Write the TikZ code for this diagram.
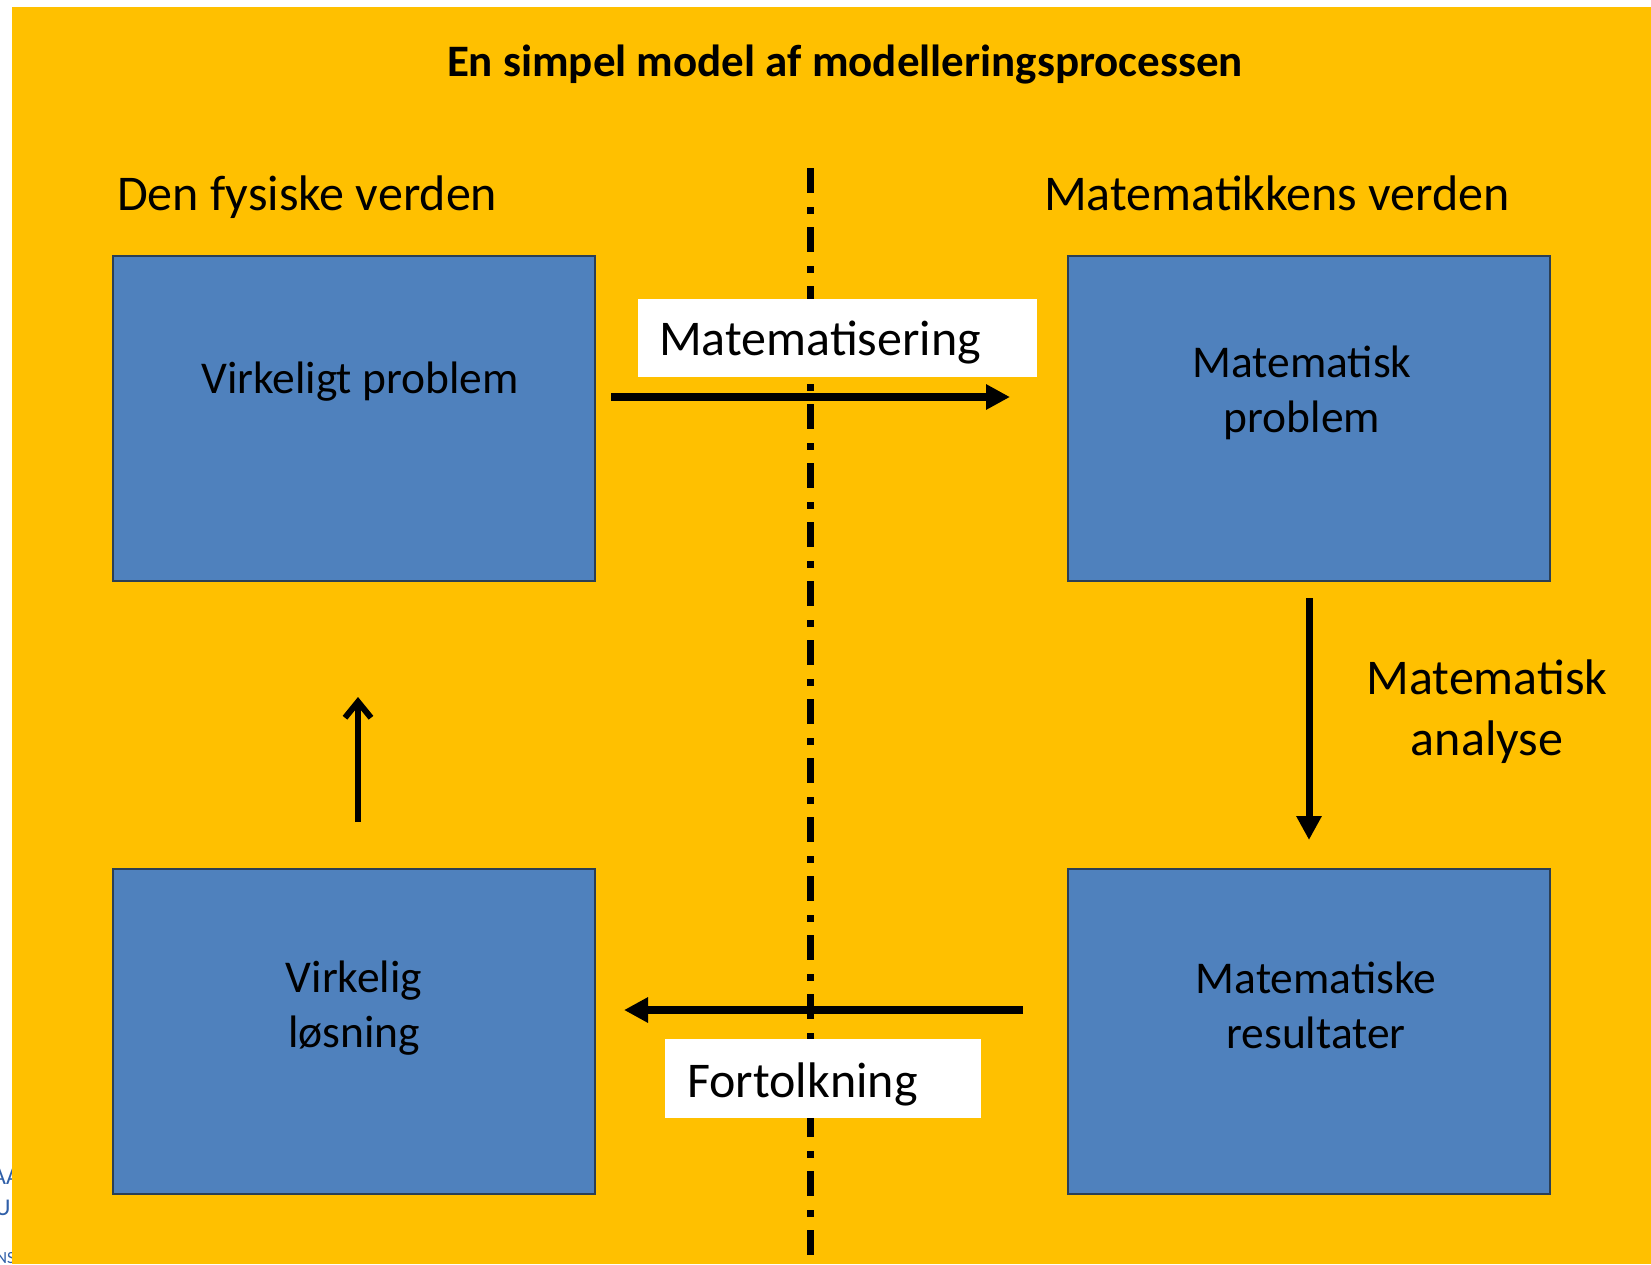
\documentclass[tikz,border=0pt]{standalone}
\usepackage{fontspec}
\setmainfont{Carlito}
\usetikzlibrary{arrows.meta}
\definecolor{bgorange}{HTML}{FFC000}
\definecolor{boxblue}{HTML}{4F81BD}
\definecolor{boxedge}{HTML}{2B3F55}
\definecolor{logoblue}{HTML}{2F5FA8}
\tikzset{
  world/.style={draw=boxedge, line width=2pt, fill=boxblue, minimum width=482pt, minimum height=325pt, inner sep=0pt},
  boxtext/.style={align=center, inner sep=0pt, font=\fontsize{45.5}{55}\selectfont},
  bigtext/.style={inner sep=0pt, font=\fontsize{50}{61}\selectfont},
  labelbox/.style={fill=white, draw=none, inner sep=0pt},
  flow/.style={line width=8pt, -{Triangle[length=24pt,width=24pt]}},
  upflow/.style={line width=6pt, -{Straight Barb[length=16pt,width=26pt,line width=6pt]}},
  divider/.style={line width=7pt, dash pattern=on 25pt off 14pt on 7pt off 13pt}
}
\begin{document}
\begin{tikzpicture}[x=1pt,y=-1pt]
\useasboundingbox (0,0) rectangle (1651,1264);
\fill[white] (0,0) rectangle (1651,1264);
% partial logo at left edge
\node[anchor=base west, inner sep=0pt, text=logoblue, font=\fontsize{24}{24}\selectfont] (logoa) at (-8,1184) {AA};
\node[anchor=base west, inner sep=0pt, text=logoblue, font=\fontsize{24}{24}\selectfont] (logob) at (-5,1215) {UU};
\node[anchor=base west, inner sep=0pt, text=logoblue, font=\fontsize{17}{17}\selectfont] (logoc) at (-4,1263) {NS};
\fill[bgorange] (12,7) rectangle (1651,1264);

% title
\node[inner sep=0pt, font=\fontsize{45}{54}\bfseries\selectfont] (title) at (845,65) {En simpel model af modelleringsprocessen};

% world headings
\node[bigtext, anchor=base west] (hleft) at (117,210) {Den fysiske verden};
\node[bigtext, anchor=base west] (hright) at (1044,210) {Matematikkens verden};

% divider
\coordinate (divtop) at (810,168);
\coordinate (divbot) at (810,1264);
\draw[divider] (divtop) -- (divbot);

% boxes
\node[world] (vp) at (354,418.5) {};
\node[world] (mp) at (1309,418.5) {};
\node[world] (vl) at (354,1031.5) {};
\node[world] (mr) at (1309,1031.5) {};

\node[boxtext, anchor=base] (vpt) at (360,393) {Virkeligt problem};
\node[boxtext] (mpt) at (1302,393) {Matematisk\\problem};
\node[boxtext] (vlt) at (354,1008) {Virkelig\\løsning};
\node[boxtext] (mrt) at (1316,1005) {Matematiske\\resultater};

% label boxes
\node[labelbox, minimum width=399pt, minimum height=78pt] (matbox) at (837.5,338) {};
\node[bigtext, anchor=base west] (matt) at (659,355) {Matematisering};
\node[labelbox, minimum width=316pt, minimum height=79pt] (fortbox) at (823,1078.5) {};
\node[bigtext, anchor=base west] (fortt) at (687,1097) {Fortolkning};

\node[bigtext, align=center] (analyse) at (1487,712) {Matematisk\\analyse};

% arrows
\coordinate (a1s) at (611,397);
\coordinate (a1e) at (1010,397);
\draw[flow] (a1s) -- (a1e);
\coordinate (a2s) at (1309,598);
\coordinate (a2e) at (1309,840);
\draw[flow, line width=7pt] (a2s) -- (a2e);
\coordinate (a3s) at (1023,1010);
\coordinate (a3e) at (624,1010);
\draw[flow] (a3s) -- (a3e);
\coordinate (a4s) at (358,822);
\coordinate (a4e) at (358,697);
\draw[upflow] (a4s) -- (a4e);
\end{tikzpicture}
\end{document}
